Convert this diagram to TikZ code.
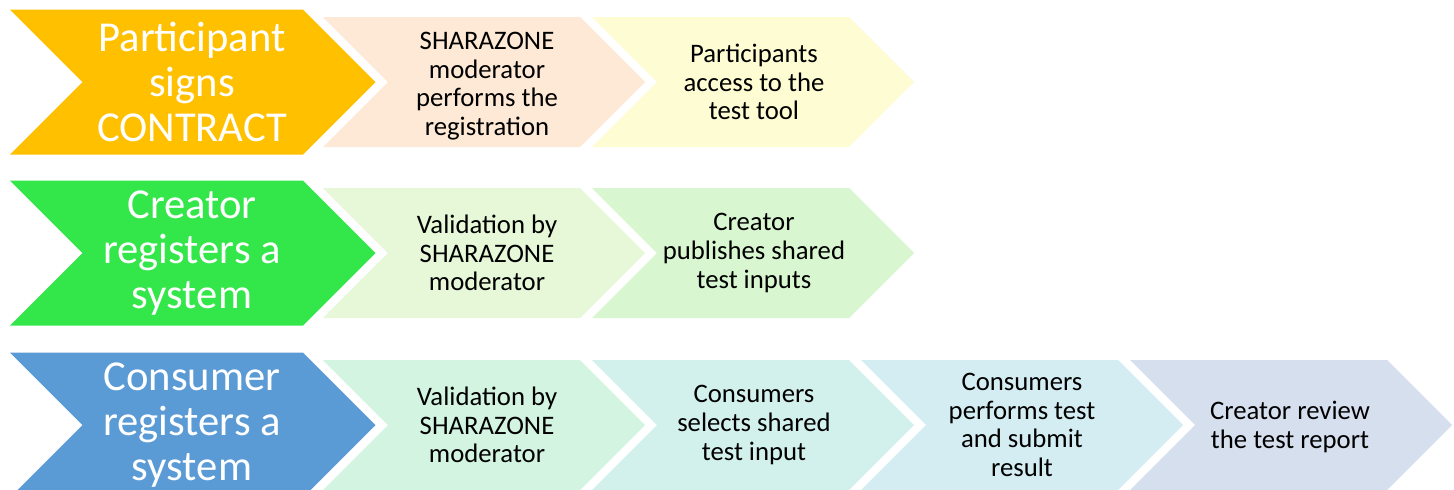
\documentclass[tikz,border=0pt]{standalone}
\usepackage{fontspec}
\setmainfont{Carlito}
\usepackage{tikz}
\definecolor{partc}{HTML}{FFC000}
\definecolor{creac}{HTML}{33E64A}
\definecolor{consc}{HTML}{5B9BD5}
\definecolor{peach}{HTML}{FDE9D6}
\definecolor{lyellow}{HTML}{FEFCD2}
\definecolor{lgreena}{HTML}{E6F8D8}
\definecolor{lgreenb}{HTML}{D8F6CF}
\definecolor{mint}{HTML}{D2F4E1}
\definecolor{lcyana}{HTML}{D3F1EC}
\definecolor{lcyanb}{HTML}{D4EDF2}
\definecolor{lblue}{HTML}{D5DFEE}
\tikzset{bigtxt/.style={align=center,text=white,inner sep=0pt,font=\fontsize{30.3}{32}\selectfont},
  smalltxt/.style={align=center,text=black,inner sep=0pt,font=\fontsize{19}{20.4}\selectfont}}
% chevron: left x, centre y, half height, length to corner, colour
\newcommand{\chev}[5]{\fill[#5] (#1,#2-#3) -- ++(#4,0) -- ++(#3,#3) -- ++(-#3,#3)
  -- ++(-#4,0) -- ++(#3,-#3) -- cycle;}

\begin{document}
\begin{tikzpicture}[x=0.025cm,y=-0.025cm]
\clip (0,0) rectangle (1454,489);
\fill[white] (0,0) rectangle (1454,489);

% row 1
\chev{10}{82}{72.5}{293}{partc}
\chev{323}{82}{65}{257}{peach}
\chev{592}{82}{65}{257}{lyellow}
\node[bigtxt] (part) at (192,82) {Participant\\signs\\CONTRACT};
\node[smalltxt] (reg) at (487,86) {SHARAZONE\\moderator\\performs the\\registration};
\node[smalltxt] (acc) at (754,82) {Participants\\access to the\\test tool};

% row 2
\chev{10}{253}{72.5}{293}{creac}
\chev{323}{253}{65}{257}{lgreena}
\chev{592}{253}{65}{257}{lgreenb}
\node[bigtxt] (crea) at (192,253) {Creator\\registers a\\system};
\node[smalltxt] (valb) at (487,253) {Validation by\\SHARAZONE\\moderator};
\node[smalltxt] (pub) at (754,253) {Creator\\publishes shared\\test inputs};

% row 3
\chev{10}{425}{72.5}{293}{consc}
\chev{323}{425}{65}{257}{mint}
\chev{592}{425}{65}{257}{lcyana}
\chev{861}{425}{65}{257}{lcyanb}
\chev{1130}{425}{65}{257}{lblue}
\node[bigtxt] (cons) at (192,425) {Consumer\\registers a\\system};
\node[smalltxt] (valc) at (487,425) {Validation by\\SHARAZONE\\moderator};
\node[smalltxt] (sel) at (754,425) {Consumers\\selects shared\\test input};
\node[smalltxt] (perf) at (1022,425) {Consumers\\performs test\\and submit\\result};
\node[smalltxt] (rev) at (1290,427) {Creator review\\the test report};
\end{tikzpicture}
\end{document}
